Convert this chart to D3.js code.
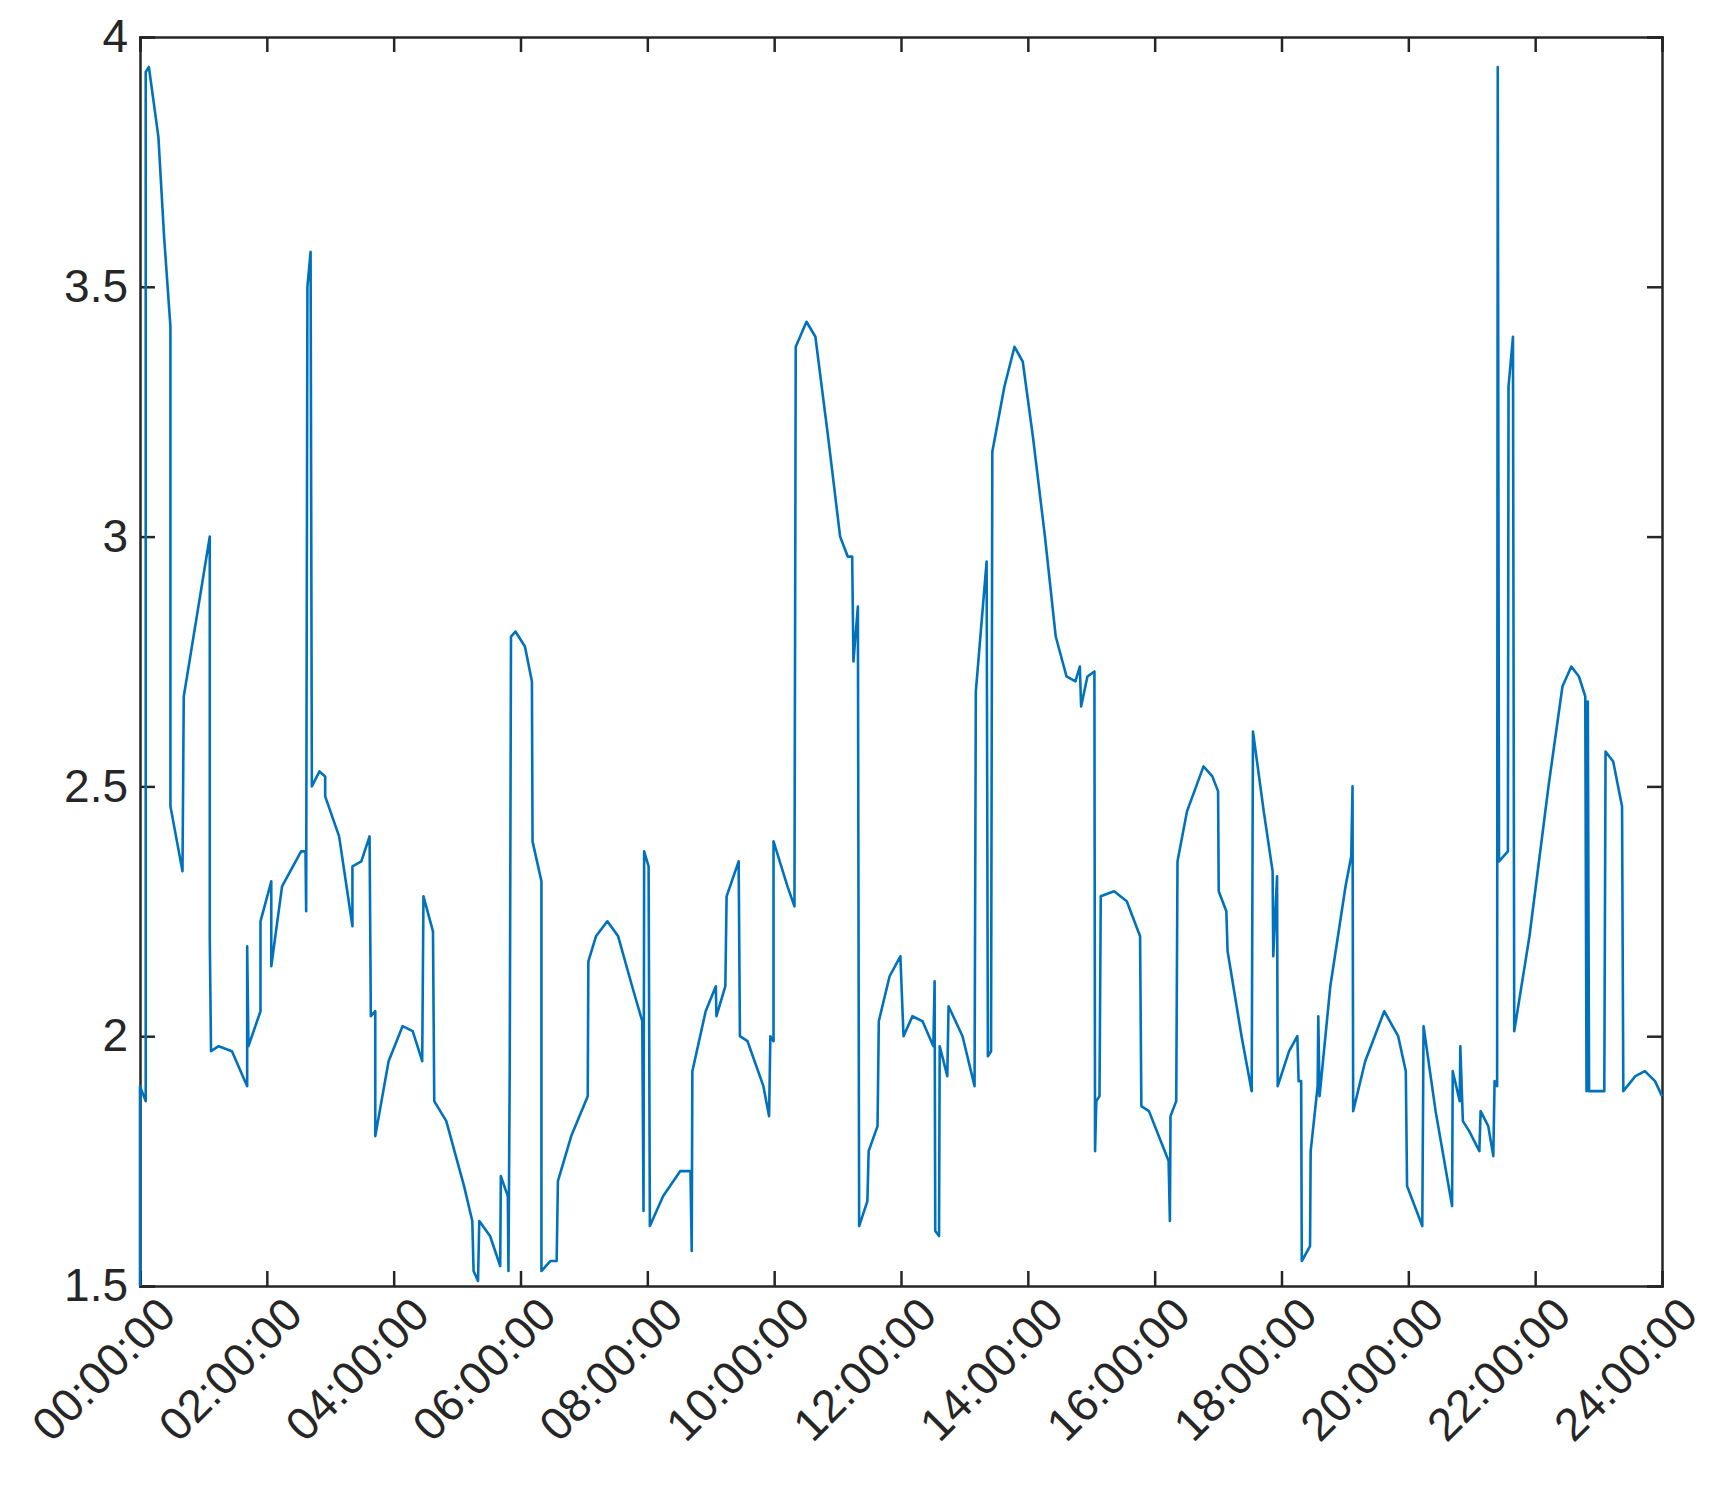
<!DOCTYPE html>
<html><head><meta charset="utf-8">
<script src="https://cdn.jsdelivr.net/npm/d3@7"></script>
<style>body{margin:0;background:#fff}</style>
</head><body><svg id="chart" width="1711" height="1510"></svg>
<script>
// time of day in hours
var hours = [0,0,0.09,0.09,0.14,0.29,0.38,0.48,0.48,0.67,0.69,1.10,1.10,1.12,1.24,1.45,1.69,1.69,1.71,1.90,1.90,2.07,2.07,2.24,2.54,2.61,2.62,2.64,2.69,2.71,2.83,2.92,2.92,3.14,3.35,3.35,3.49,3.62,3.64,3.71,3.71,3.92,4.14,4.30,4.45,4.47,4.62,4.64,4.83,5.11,5.24,5.26,5.33,5.35,5.52,5.68,5.69,5.80,5.81,5.83,5.85,5.92,6.07,6.18,6.19,6.33,6.33,6.47,6.57,6.59,6.80,7.06,7.07,7.19,7.37,7.54,7.76,7.92,7.94,7.95,8.02,8.04,8.25,8.52,8.68,8.70,8.71,8.92,9.08,9.09,9.23,9.25,9.44,9.46,9.58,9.83,9.92,9.94,9.99,9.99,10.21,10.32,10.34,10.51,10.65,10.85,11.04,11.16,11.23,11.25,11.32,11.34,11.47,11.49,11.63,11.65,11.82,11.99,12.04,12.18,12.34,12.51,12.53,12.54,12.60,12.61,12.73,12.75,12.97,13.16,13.18,13.35,13.37,13.42,13.44,13.63,13.79,13.92,14.08,14.27,14.44,14.61,14.75,14.82,14.84,14.94,15.05,15.06,15.08,15.13,15.15,15.36,15.56,15.77,15.79,15.91,16.22,16.24,16.25,16.34,16.36,16.51,16.77,16.91,17.00,17.01,17.13,17.15,17.37,17.53,17.55,17.72,17.86,17.87,17.93,17.94,18.12,18.25,18.27,18.31,18.32,18.45,18.46,18.57,18.58,18.60,18.77,19.01,19.10,19.12,19.13,19.32,19.62,19.84,19.96,19.98,20.22,20.24,20.43,20.69,20.70,20.81,20.82,20.86,20.96,21.12,21.14,21.26,21.34,21.36,21.40,21.41,21.43,21.57,21.58,21.65,21.67,21.91,22.21,22.43,22.57,22.69,22.79,22.81,22.83,22.85,23.09,23.11,23.23,23.37,23.39,23.58,23.73,23.89,24];
var values = [1.5,1.9,1.87,3.93,3.94,3.8,3.6,3.42,2.46,2.33,2.68,3.0,2.2,1.97,1.98,1.97,1.9,2.18,1.98,2.05,2.23,2.31,2.14,2.3,2.37,2.37,2.25,3.5,3.57,2.5,2.53,2.52,2.48,2.4,2.22,2.34,2.35,2.4,2.04,2.05,1.8,1.95,2.02,2.01,1.95,2.28,2.21,1.87,1.83,1.7,1.63,1.53,1.51,1.63,1.6,1.54,1.72,1.68,1.53,1.93,2.8,2.81,2.78,2.71,2.39,2.31,1.53,1.55,1.55,1.71,1.8,1.88,2.15,2.2,2.23,2.2,2.1,2.03,1.65,2.37,2.34,1.62,1.68,1.73,1.73,1.57,1.93,2.05,2.1,2.04,2.1,2.28,2.35,2.0,1.99,1.9,1.84,2.0,1.99,2.39,2.3,2.26,3.38,3.43,3.4,3.2,3.0,2.96,2.96,2.75,2.86,1.62,1.67,1.77,1.82,2.03,2.12,2.16,2.0,2.04,2.03,1.98,2.11,1.61,1.6,1.98,1.92,2.06,2.0,1.9,2.69,2.95,1.96,1.97,3.17,3.3,3.38,3.35,3.2,3.0,2.8,2.72,2.71,2.74,2.66,2.72,2.73,1.77,1.87,1.88,2.28,2.29,2.27,2.2,1.86,1.85,1.75,1.63,1.84,1.87,2.35,2.45,2.54,2.52,2.49,2.29,2.25,2.17,2.0,1.89,2.61,2.45,2.33,2.16,2.32,1.9,1.97,2.0,1.91,1.91,1.55,1.58,1.77,1.9,2.04,1.88,2.1,2.3,2.36,2.5,1.85,1.95,2.05,2.0,1.93,1.7,1.62,2.02,1.85,1.66,1.93,1.87,1.98,1.83,1.81,1.77,1.85,1.82,1.76,1.91,1.9,3.94,2.35,2.37,3.3,3.4,2.01,2.2,2.5,2.7,2.74,2.72,2.68,1.89,2.67,1.89,1.89,2.57,2.55,2.46,1.89,1.92,1.93,1.91,1.88];
var xTicks = [0,2,4,6,8,10,12,14,16,18,20,22,24];
var yTicks = [1.5,2,2.5,3,3.5,4];

var margin = {left: 140, top: 37, right: 49, bottom: 224};
var W = 1711 - margin.left - margin.right, H = 1510 - margin.top - margin.bottom;
var svg = d3.select('#chart');
var g = svg.append('g').attr('transform', 'translate(' + margin.left + ',' + margin.top + ')');
var x = d3.scaleLinear().domain([0, 24]).range([0, W]);
var y = d3.scaleLinear().domain([1.5, 4]).range([H, 0]);
var font = 'Liberation Sans, Arial, sans-serif';
var ink = '#262626';

function pad(h) { return (h < 10 ? '0' : '') + h + ':00:00'; }

var gx = g.append('g').attr('transform', 'translate(0,' + H + ')')
  .call(d3.axisBottom(x).tickValues(xTicks).tickSize(-15).tickPadding(14).tickFormat(pad));
gx.selectAll('text').attr('transform', 'rotate(-45)').style('text-anchor', 'end')
  .attr('dx', '0.1em').attr('dy', '0.75em');
g.append('g')
  .call(d3.axisTop(x).tickValues(xTicks).tickSize(-15).tickFormat(''));
g.append('g')
  .call(d3.axisLeft(y).tickValues(yTicks).tickSize(-15).tickPadding(12).tickFormat(d3.format('')));
g.append('g').attr('transform', 'translate(' + W + ',0)')
  .call(d3.axisRight(y).tickValues(yTicks).tickSize(-15).tickFormat(''));
g.selectAll('.domain, .tick line').attr('stroke', ink).attr('stroke-width', 2.5);
g.selectAll('.tick text').attr('fill', ink).style('font-family', font).style('font-size', '46px');

var line = d3.line().x(function(d, i) { return x(hours[i]); }).y(function(d) { return y(d); });
g.append('path').datum(values).attr('d', line).attr('fill', 'none')
  .attr('stroke', '#0072BD').attr('stroke-width', 2.6).attr('stroke-linejoin', 'round');
</script></body></html>
